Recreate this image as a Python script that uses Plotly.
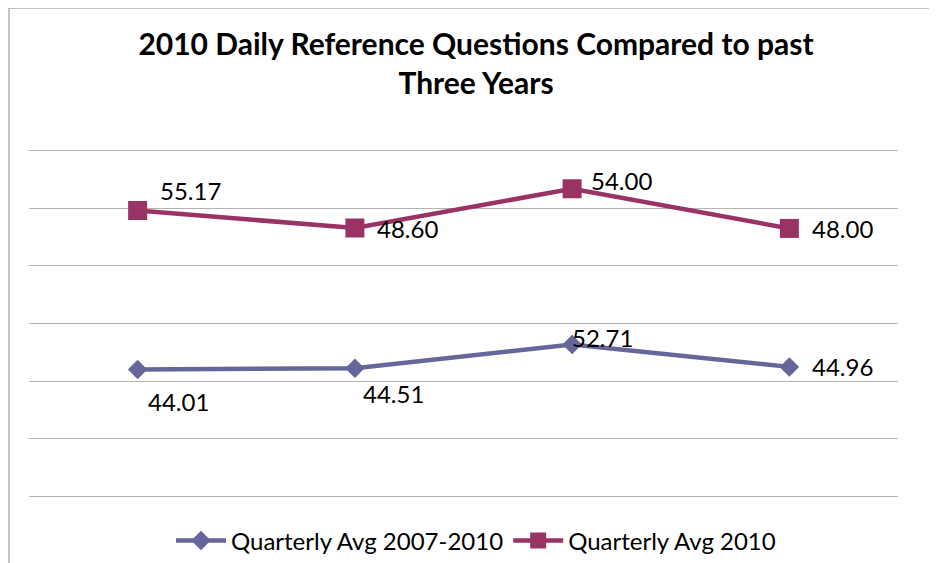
import plotly.graph_objects as go
import numpy as np

# ---- data ----
quarters = ["Q1", "Q2", "Q3", "Q4"]
avg_2007_2010 = [44.01, 44.51, 52.71, 44.96]
avg_2010 = [55.17, 48.60, 54.00, 48.00]
series_names = ["Quarterly Avg 2007-2010", "Quarterly Avg 2010"]
y_ticks = [0, 20, 40, 60, 80, 100, 120]

# ---- style ----
C1 = "#66669A"
C2 = "#993366"
FONT = "Lato"
OFF = 8  # page body margin
W, H = 937 - OFF, 563 - OFF
L, R, T, B = 21, 39, 141, 65

fig = go.Figure()
fig.add_trace(go.Scatter(
    x=quarters, y=avg_2007_2010, name=series_names[0], stackgroup="s", fill="none",
    mode="lines+markers", line=dict(color=C1, width=4.5),
    marker=dict(symbol="diamond", size=15, color=C1),
))
fig.add_trace(go.Scatter(
    x=quarters, y=avg_2010, name=series_names[1], stackgroup="s", fill="none",
    mode="lines+markers", line=dict(color=C2, width=4.5),
    marker=dict(symbol="square", size=19, color=C2),
))

# data labels (label offsets in px relative to the marker)
off1 = [(8, -32), (6, -25), (-2, 7), (21, 0)]
off2 = [(20, 20), (20, 0), (17, 8), (21, 0)]
stack2 = np.array(avg_2007_2010) + np.array(avg_2010)
for q, v, (dx, dy) in zip(quarters, avg_2007_2010, off1):
    fig.add_annotation(x=q, y=v, text=f"{v:.2f}", showarrow=False, xanchor="left",
                       yanchor="middle", xshift=dx, yshift=dy,
                       font=dict(family=FONT, size=24, color="black"))
for q, v, s, (dx, dy) in zip(quarters, avg_2010, stack2, off2):
    fig.add_annotation(x=q, y=s, text=f"{v:.2f}", showarrow=False, xanchor="left",
                       yanchor="middle", xshift=dx, yshift=dy,
                       font=dict(family=FONT, size=24, color="black"))

pw, ph = W - L - R, H - T - B
bx = (1 - L) / pw
by = (H - B - 0) / ph
fig.add_shape(type="line", xref="paper", yref="paper", x0=bx, x1=1.2, y0=by, y1=by,
              line=dict(color="#8a8a8a", width=1))
fig.add_shape(type="line", xref="paper", yref="paper", x0=bx, x1=bx, y0=-0.3, y1=by,
              line=dict(color="#8a8a8a", width=1))

fig.update_layout(
    width=W, height=H,
    margin=dict(l=L, r=R, t=T, b=B, autoexpand=False),
    paper_bgcolor="white", plot_bgcolor="white",
    title=dict(text="<b>2010 Daily Reference Questions Compared to past<br>Three Years</b>",
               x=(476 - OFF - L) / pw, xref="paper", xanchor="center",
               y=1 - (55 - OFF) / H, yanchor="middle",
               font=dict(family=FONT, size=30, color="black")),
    showlegend=True,
    legend=dict(orientation="h", x=(476 - OFF - L) / pw, xanchor="center",
                y=-(541 - OFF - (H - B)) / ph, yanchor="middle",
                font=dict(family=FONT, size=24, color="black"),
                itemwidth=50, traceorder="normal"),
    font=dict(family=FONT),
)
fig.update_xaxes(range=[-0.5, 3.5], showgrid=False, showticklabels=False,
                 showline=False, zeroline=False, ticks="")
fig.update_yaxes(range=[-0.5, 120.5], tickvals=y_ticks, showticklabels=False,
                 showgrid=True, gridcolor="#B3B3B3", gridwidth=1,
                 zeroline=False, showline=False, ticks="")

fig.write_html("out.html")
